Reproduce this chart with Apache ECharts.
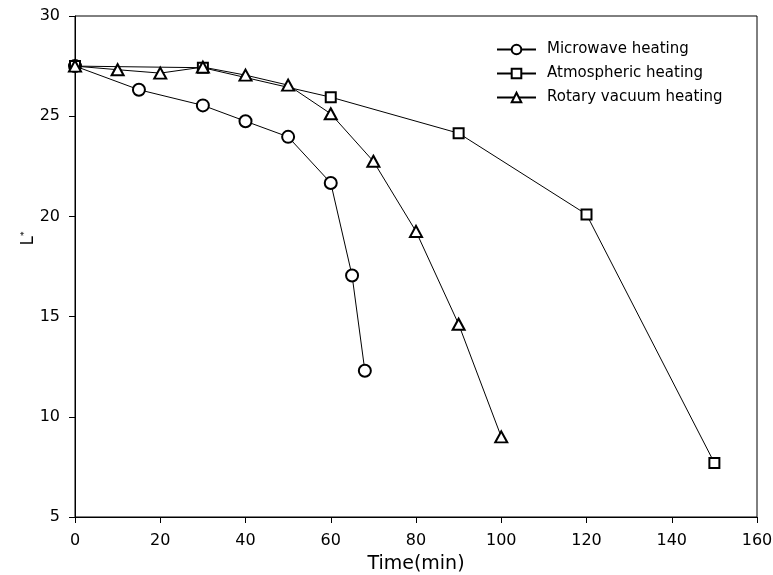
<!DOCTYPE html>
<html>
<head>
<meta charset="utf-8">
<script src="https://cdn.jsdelivr.net/npm/echarts@6/dist/echarts.min.js"></script>
<style>
  html, body { margin: 0; padding: 0; background: #fff; }
  #chart { width: 773px; height: 575px; }
</style>
</head>
<body>
<div id="chart"></div>
<script>
// Lightness L* of the samples over heating time
const seriesNames = ['Microwave heating', 'Atmospheric heating', 'Rotary vacuum heating'];

const microwaveTime = [0, 15, 30, 40, 50, 60, 65, 68];
const microwaveL = [27.5, 26.32, 25.54, 24.75, 23.97, 21.67, 17.05, 12.3];

const atmosphericTime = [0, 30, 60, 90, 120, 150];
const atmosphericL = [27.5, 27.42, 25.95, 24.15, 20.1, 7.7];

const rotaryTime = [0, 10, 20, 30, 40, 50, 60, 70, 80, 90, 100];
const rotaryL = [27.5, 27.32, 27.15, 27.45, 27.05, 26.55, 25.12, 22.75, 19.25, 14.62, 9.0];

const xTicks = { min: 0, max: 160, interval: 20 };
const yTicks = { min: 5, max: 30, interval: 5 };

const pair = (xs, ys) => xs.map((x, i) => [x, ys[i]]);

const font = 'DejaVu Sans, Liberation Sans, Arial, sans-serif';

function lineSeries(name, data, symbol, size) {
  return {
    name: name,
    type: 'line',
    data: data,
    symbol: symbol,
    symbolSize: size,
    showAllSymbol: true,
    lineStyle: { color: '#000', width: 1 },
    itemStyle: { color: '#000', borderWidth: 1 },
    emphasis: { disabled: true },
    animation: false
  };
}

const chart = echarts.init(document.getElementById('chart'), null, { renderer: 'canvas' });
chart.setOption({
  backgroundColor: '#fff',
  animation: false,
  grid: {
    left: 75, top: 16, right: 16, bottom: 58,
    outerBoundsMode: 'none',
    show: true, borderColor: '#000', borderWidth: 1, backgroundColor: 'transparent'
  },
  legend: {
    orient: 'vertical',
    left: 491, top: 37,
    itemWidth: 39, itemHeight: 12, itemGap: 9,
    textStyle: { fontFamily: font, fontSize: 15, color: '#000', padding: [0, 0, 0, 6] },
    data: seriesNames,
    selectedMode: false
  },
  xAxis: {
    type: 'value',
    min: xTicks.min, max: xTicks.max, interval: xTicks.interval,
    name: 'Time(min)', nameLocation: 'middle', nameGap: 38, nameMoveOverlap: false,
    nameTextStyle: { fontFamily: font, fontSize: 19, color: '#000' },
    axisLine: { lineStyle: { color: '#000', width: 1 } },
    axisTick: { show: true, length: 6, lineStyle: { color: '#000' } },
    axisLabel: { fontFamily: font, fontSize: 16, color: '#000', margin: 16 },
    splitLine: { show: false }
  },
  yAxis: {
    type: 'value',
    min: yTicks.min, max: yTicks.max, interval: yTicks.interval,
    name: 'L{sup|*}', nameLocation: 'middle', nameGap: 38, nameRotate: 90, nameMoveOverlap: false,
    nameTextStyle: {
      fontFamily: font, fontSize: 17, color: '#000',
      padding: [0, 0, 0, 56],
      rich: { sup: { fontFamily: font, fontSize: 9, color: '#000', verticalAlign: 'top', padding: [0, 0, 8, 0] } }
    },
    axisLine: { show: true, lineStyle: { color: '#000', width: 1 } },
    axisTick: { show: true, length: 6, lineStyle: { color: '#000' } },
    axisLabel: { fontFamily: font, fontSize: 16, color: '#000', margin: 15 },
    splitLine: { show: false }
  },
  series: [
    lineSeries(seriesNames[0], pair(microwaveTime, microwaveL), 'emptyCircle', 12),
    lineSeries(seriesNames[1], pair(atmosphericTime, atmosphericL), 'emptyRect', 10),
    lineSeries(seriesNames[2], pair(rotaryTime, rotaryL), 'emptyTriangle', [12, 11])
  ]
});
</script>
</body>
</html>
